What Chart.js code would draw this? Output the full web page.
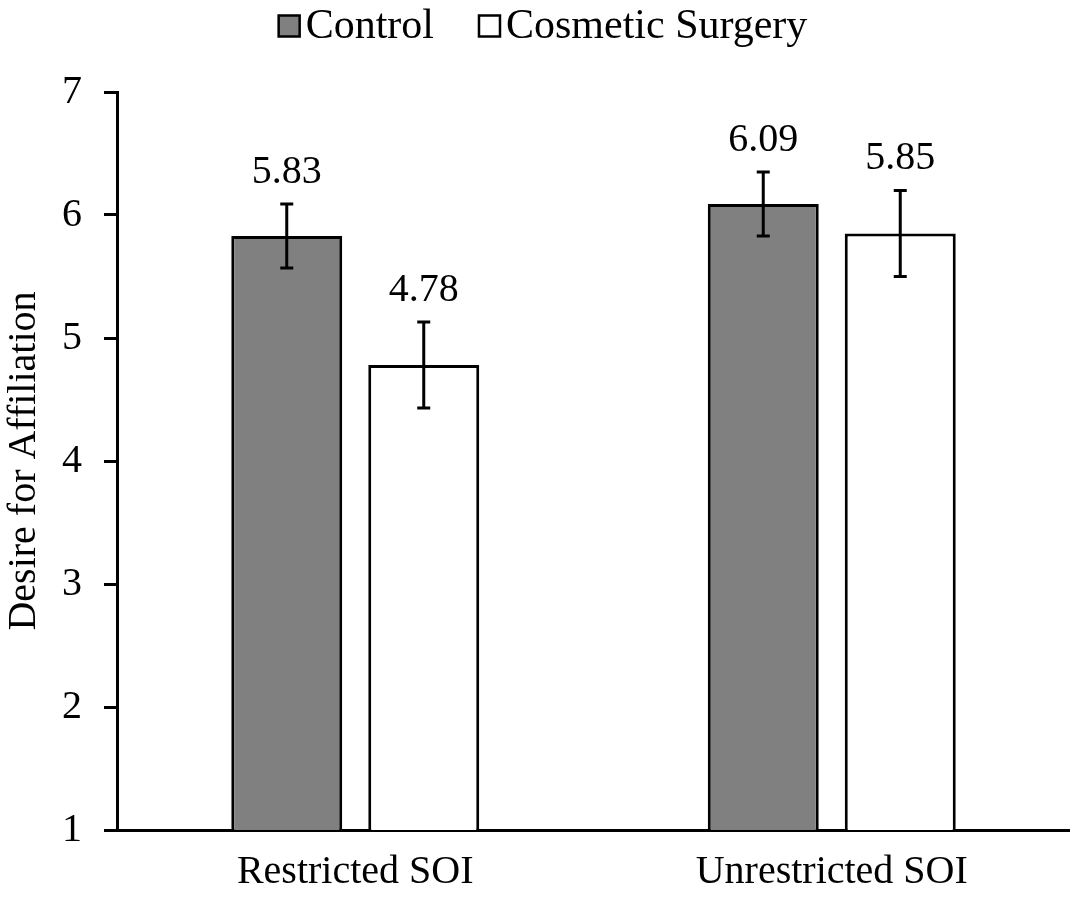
<!DOCTYPE html>
<html>
<head>
<meta charset="utf-8">
<script src="https://cdn.jsdelivr.net/npm/chart.js@4.4.1/dist/chart.umd.min.js"></script>
<style>
  html, body { margin: 0; padding: 0; background: #fff; }
  #wrap { width: 1070px; height: 901px; }
</style>
</head>
<body>
<div id="wrap"><canvas id="chart"></canvas></div>
<script>
// Daten
const groups = ['Restricted SOI', 'Unrestricted SOI'];
const seriesNames = ['Control', 'Cosmetic Surgery'];
const controlMeans = [5.83, 6.09];
const surgeryMeans = [4.78, 5.85];
const controlErr = [0.26, 0.26];
const surgeryErr = [0.35, 0.35];
const yTicks = [1, 2, 3, 4, 5, 6, 7];

const FONT = 'Liberation Serif, Times New Roman, serif';

// Fehlerbalken + Werte
const errorBars = {
  id: 'errorBars',
  afterDatasetsDraw(chart) {
    const ctx = chart.ctx;
    const y = chart.scales.y;
    chart.data.datasets.forEach((ds, di) => {
      const meta = chart.getDatasetMeta(di);
      meta.data.forEach((bar, i) => {
        const v = ds.data[i];
        const e = ds.err[i];
        const top = y.getPixelForValue(v + e);
        const bot = y.getPixelForValue(v - e);
        ctx.save();
        ctx.strokeStyle = '#000';
        ctx.lineWidth = 3;
        ctx.beginPath();
        ctx.moveTo(bar.x, top);
        ctx.lineTo(bar.x, bot);
        ctx.moveTo(bar.x - 6.5, top);
        ctx.lineTo(bar.x + 6.5, top);
        ctx.moveTo(bar.x - 6.5, bot);
        ctx.lineTo(bar.x + 6.5, bot);
        ctx.stroke();
        ctx.fillStyle = '#000';
        ctx.font = '40px ' + FONT;
        ctx.textAlign = 'center';
        ctx.textBaseline = 'alphabetic';
        ctx.fillText(v.toFixed(2), bar.x, top - 21);
        ctx.restore();
      });
    });
  }
};

// Legende oben (Kästchen direkt am Text)
const topLegend = {
  id: 'topLegend',
  afterDraw(chart) {
    const ctx = chart.ctx;
    ctx.save();
    ctx.font = '42px ' + FONT;
    const box = 21, gapText = 6, gapItem = 45;
    const items = chart.data.datasets.map(ds => ({
      text: ds.label, fill: ds.backgroundColor, w: ctx.measureText(ds.label).width
    }));
    let total = 0;
    items.forEach((it, i) => { total += box + gapText + it.w + (i ? gapItem : 0); });
    let x = chart.width / 2 + 8 - total / 2;
    const cy = 26;
    items.forEach((it, i) => {
      if (i) x += gapItem;
      ctx.fillStyle = it.fill;
      ctx.fillRect(x, cy - box / 2, box, box);
      ctx.strokeStyle = '#000';
      ctx.lineWidth = 2.5;
      ctx.strokeRect(x, cy - box / 2, box, box);
      x += box + gapText;
      ctx.fillStyle = '#000';
      ctx.textAlign = 'left';
      ctx.textBaseline = 'alphabetic';
      ctx.fillText(it.text, x, 38);
      x += it.w;
    });
    ctx.restore();
  }
};

new Chart(document.getElementById('chart'), {
  type: 'bar',
  data: {
    labels: groups,
    datasets: [
      {
        label: seriesNames[0],
        data: controlMeans,
        err: controlErr,
        backgroundColor: '#808080',
        borderColor: '#000',
        borderWidth: 3,
        categoryPercentage: 0.575,
        barPercentage: 0.81
      },
      {
        label: seriesNames[1],
        data: surgeryMeans,
        err: surgeryErr,
        backgroundColor: '#ffffff',
        borderColor: '#000',
        borderWidth: 3,
        categoryPercentage: 0.575,
        barPercentage: 0.81
      }
    ]
  },
  options: {
    responsive: true,
    maintainAspectRatio: false,
    animation: false,
    layout: { padding: { top: 92, right: 0, bottom: 0, left: 0 } },
    scales: {
      x: {
        grid: { display: false },
        border: { display: true, color: '#000', width: 3 },
        ticks: { color: '#000', font: { family: FONT, size: 40 }, padding: 10 },
        afterFit(scale) { scale.height = 71; }
      },
      y: {
        min: 1,
        max: 7,
        afterBuildTicks(scale) { scale.ticks = yTicks.map(v => ({ value: v })); },
        grid: { drawOnChartArea: false, drawTicks: true, tickLength: 13, color: '#000', lineWidth: 3 },
        border: { display: true, color: '#000', width: 3 },
        ticks: { color: '#000', font: { family: FONT, size: 40 }, padding: 22 },
        title: { display: true, text: 'Desire for Affiliation', color: '#000', font: { family: FONT, size: 40 }, padding: 0 },
        afterFit(scale) { scale.width = 117; }
      }
    },
    plugins: {
      legend: { display: false },
      tooltip: { enabled: false }
    }
  },
  plugins: [errorBars, topLegend]
});
</script>
</body>
</html>
